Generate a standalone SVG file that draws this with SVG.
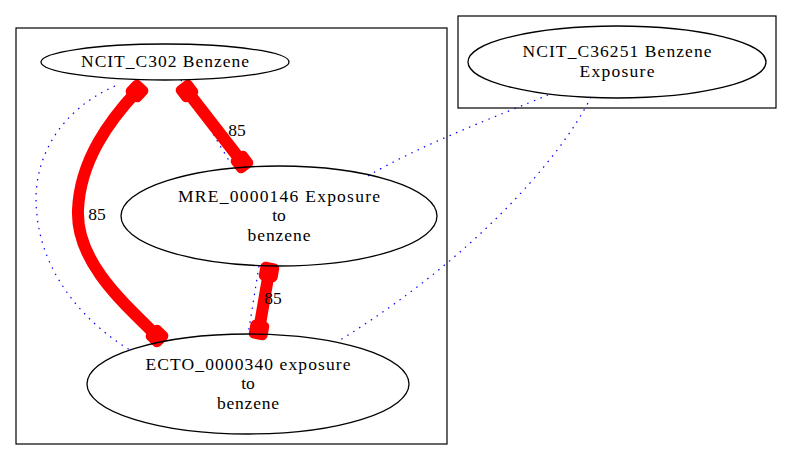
<svg xmlns="http://www.w3.org/2000/svg" width="792" height="461" viewBox="0 0 792 461">
<style>
.bg{fill:#ffffff}
.cluster{fill:none;stroke:#000000;stroke-width:1.2}
.node ellipse{fill:none;stroke:#000000;stroke-width:1.3}
text{font-family:"Liberation Serif","Times New Roman",serif;font-size:17.5px;fill:#000000;text-anchor:middle}
.heavy{fill:none;stroke:#ff0000;stroke-width:12;stroke-linecap:round;marker-start:url(#blob);marker-end:url(#blob)}
.dot{fill:none;stroke:#0000ff;stroke-width:1.2;stroke-dasharray:1.5,5.5}
</style>
<defs>
<marker id="blob" markerUnits="userSpaceOnUse" viewBox="-12 -12 24 24" markerWidth="24" markerHeight="24" refX="0" refY="0" orient="auto-start-reverse">
<rect x="-9.5" y="-9.5" width="19" height="19" rx="5" ry="5" fill="#ff0000"/>
</marker>
</defs>
<rect class="bg" x="0" y="0" width="792" height="461"/>
<g id="cluster_1"><rect class="cluster" x="16" y="28" width="431" height="416"/></g>
<g id="cluster_2"><rect class="cluster" x="458" y="16" width="318" height="92"/></g>
<g id="edges">
<path class="dot" d="M115,86 C60,110 30,160 37,215 C42,270 80,320 130,350"/>
<path class="dot" d="M181,80 L231,164"/>
<path class="dot" d="M259,266 L248,335"/>
<path class="dot" d="M548,95 C500,115 420,145 368,176"/>
<path class="dot" d="M591,97 C560,160 470,260 340,340"/>
<path class="heavy" d="M137,91 C110,120 80,160 78,210 C76,260 120,300 157,336"/>
<path class="heavy" d="M187,91 L242,162"/>
<path class="heavy" d="M269,272 L259,330"/>
<text x="97" y="220">85</text>
<text x="237" y="136">85</text>
<text x="273" y="304">85</text>
</g>
<g id="NCIT_C302" class="node">
<ellipse cx="165" cy="62" rx="124" ry="18"/>
<text x="165" y="67" textLength="168" lengthAdjust="spacing">NCIT_C302 Benzene</text>
</g>
<g id="NCIT_C36251" class="node">
<ellipse cx="617" cy="62" rx="149" ry="36"/>
<text x="617" y="57" textLength="189" lengthAdjust="spacing">NCIT_C36251 Benzene</text>
<text x="617" y="77" textLength="75" lengthAdjust="spacing">Exposure</text>
</g>
<g id="MRE_0000146" class="node">
<ellipse cx="279" cy="216" rx="158" ry="50"/>
<text x="279" y="202" textLength="202" lengthAdjust="spacing">MRE_0000146 Exposure</text>
<text x="279" y="221">to</text>
<text x="279" y="241" textLength="63" lengthAdjust="spacing">benzene</text>
</g>
<g id="ECTO_0000340" class="node">
<ellipse cx="248" cy="384" rx="161" ry="50"/>
<text x="248" y="370" textLength="205" lengthAdjust="spacing">ECTO_0000340 exposure</text>
<text x="248" y="389">to</text>
<text x="248" y="409" textLength="62" lengthAdjust="spacing">benzene</text>
</g>
</svg>
